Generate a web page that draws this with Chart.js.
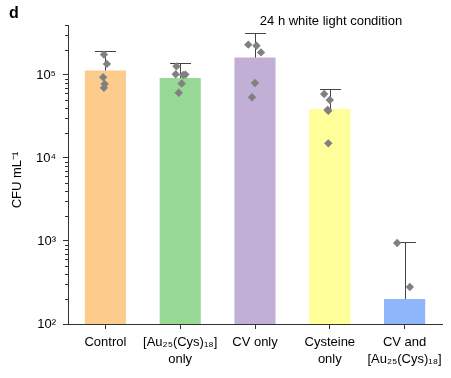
<!DOCTYPE html>
<html>
<head>
<meta charset="utf-8">
<script src="https://cdn.jsdelivr.net/npm/chart.js@4/dist/chart.umd.min.js"></script>
<style>
  html, body { margin: 0; padding: 0; background: #fff; }
  #wrap { width: 451px; height: 378px; position: relative; }
</style>
</head>
<body>
<div id="wrap"><canvas id="c" width="451" height="378"></canvas></div>
<script>
// ---- data ----
const categories = [
  ["Control"],
  ["[Au\u2082\u2085(Cys)\u2081\u2088]", "only"],
  ["CV only"],
  ["Cysteine", "only"],
  ["CV and", "[Au\u2082\u2085(Cys)\u2081\u2088]"]
];
const barMeans = [113000, 92000, 162000, 39000, 200];
const errUpper = [192000, 140000, 320000, 68000, 970];
const barColors = ["#FDCB8C", "#98D895", "#C1AFD6", "#FFFF99", "#8FB5FA"];
const pointGroup  = [0, 0, 0, 0, 0,   1, 1, 1, 1, 1, 1,   2, 2, 2, 2, 2,   3, 3, 3, 3, 3,   4, 4];
const pointValues = [176000, 136000, 94000, 78000, 70000,
                     127000, 102000, 100000, 101000, 79000, 61000,
                     232000, 225000, 187000, 80000, 54000,
                     59000, 50000, 38000, 37000, 15000,
                     945, 279];
const pointJitter = [-0.02, 0.02, -0.03, -0.01, -0.02,
                     -0.05, -0.06, 0.04, 0.07, 0.02, -0.02,
                     -0.09, 0.02, 0.08, 0.0, -0.04,
                     -0.075, 0.0, -0.03, -0.02, -0.02,
                     -0.1, 0.07];
const yMin = 100, yMax = 400000;
const majorTicks = [100, 1000, 10000, 100000];
const titleText = "24 h white light condition";
const yTitle = "CFU mL\u207B\u00B9";
const panelLetter = "d";

const FONT = "'Liberation Sans', Arial, Helvetica, sans-serif";
const SUP = {"0":"\u2070","1":"\u00B9","2":"\u00B2","3":"\u00B3","4":"\u2074","5":"\u2075","6":"\u2076","7":"\u2077","8":"\u2078","9":"\u2079"};
function tenPow(v) {
  const e = Math.round(Math.log10(v));
  return "10" + String(e).split("").map(d => SUP[d]).join("");
}

const scatterData = pointValues.map((v, i) => ({ x: pointGroup[i] + pointJitter[i], y: v }));

const decorPlugin = {
  id: "decor",
  afterDatasetDraw(chart, args) {
    if (args.index !== 0) return;
    const ctx = chart.ctx;
    const meta = chart.getDatasetMeta(0);
    const y = chart.scales.y;
    ctx.save();
    ctx.strokeStyle = "#444";
    ctx.lineWidth = 1;
    meta.data.forEach((bar, i) => {
      const x = Math.round(bar.x) + 0.5;
      const y0 = y.getPixelForValue(barMeans[i]);
      const y1 = Math.round(y.getPixelForValue(errUpper[i])) + 0.5;
      ctx.beginPath();
      ctx.moveTo(x, y0);
      ctx.lineTo(x, y1);
      ctx.moveTo(x - 10.5, y1);
      ctx.lineTo(x + 10.5, y1);
      ctx.stroke();
    });
    ctx.restore();
  },
  afterDraw(chart) {
    const ctx = chart.ctx;
    const y = chart.scales.y;
    const left = chart.chartArea.left;
    ctx.save();
    // minor ticks
    ctx.strokeStyle = "#333";
    ctx.lineWidth = 1;
    for (let d = yMin; d < yMax; d *= 10) {
      for (let m = 2; m <= 9; m++) {
        const v = d * m;
        if (v > yMax) break;
        const py = Math.round(y.getPixelForValue(v)) + 0.5;
        ctx.beginPath();
        ctx.moveTo(left - 3, py);
        ctx.lineTo(left, py);
        ctx.stroke();
      }
    }
    // texts
    ctx.fillStyle = "#000";
    ctx.font = "bold 16px " + FONT;
    ctx.textAlign = "left";
    ctx.textBaseline = "alphabetic";
    ctx.fillText(panelLetter, 9, 18);
    ctx.font = "13px " + FONT;
    ctx.textAlign = "center";
    ctx.textBaseline = "middle";
    ctx.fillText(titleText, 331, 21);
    ctx.translate(17, 180);
    ctx.rotate(-Math.PI / 2);
    ctx.fillText(yTitle, 0, 0);
    ctx.restore();
  }
};

new Chart(document.getElementById("c"), {
  type: "bar",
  data: {
    labels: categories,
    datasets: [
      {
        type: "bar",
        data: barMeans,
        backgroundColor: barColors,
        borderWidth: 0,
        categoryPercentage: 1,
        barPercentage: 0.55,
        grouped: false,
        order: 2
      },
      {
        type: "scatter",
        xAxisID: "xs",
        data: scatterData,
        pointStyle: "rectRot",
        pointRadius: 4.2,
        backgroundColor: "#808080",
        borderColor: "#808080",
        borderWidth: 0,
        showLine: false,
        order: 1
      }
    ]
  },
  options: {
    responsive: false,
    animation: false,
    events: [],
    layout: { padding: { left: 0, right: 9, top: 25, bottom: 0 } },
    plugins: { legend: { display: false }, tooltip: { enabled: false }, title: { display: false } },
    scales: {
      x: {
        type: "category",
        offset: true,
        grid: { drawOnChartArea: false, drawTicks: true, tickLength: 5, color: "#333", offset: false },
        border: { color: "#333", width: 1 },
        ticks: { color: "#000", font: { family: FONT, size: 13, lineHeight: 1.3 }, padding: 5, maxRotation: 0, autoSkip: false },
        afterFit(s) { s.height = 54; }
      },
      xs: {
        type: "linear",
        display: false,
        offset: false,
        min: -0.5,
        max: 4.5,
        grid: { offset: false }
      },
      y: {
        type: "logarithmic",
        min: yMin,
        max: yMax,
        afterBuildTicks(s) { s.ticks = majorTicks.map(v => ({ value: v, major: true })); },
        grid: { drawOnChartArea: false, drawTicks: true, tickLength: 5, color: "#333" },
        border: { color: "#333", width: 1 },
        ticks: {
          color: "#000",
          font: { family: FONT, size: 13 },
          padding: 7,
          callback: (v) => tenPow(v)
        },
        afterFit(s) { s.width = 68; }
      }
    }
  },
  plugins: [decorPlugin]
});
</script>
</body>
</html>
